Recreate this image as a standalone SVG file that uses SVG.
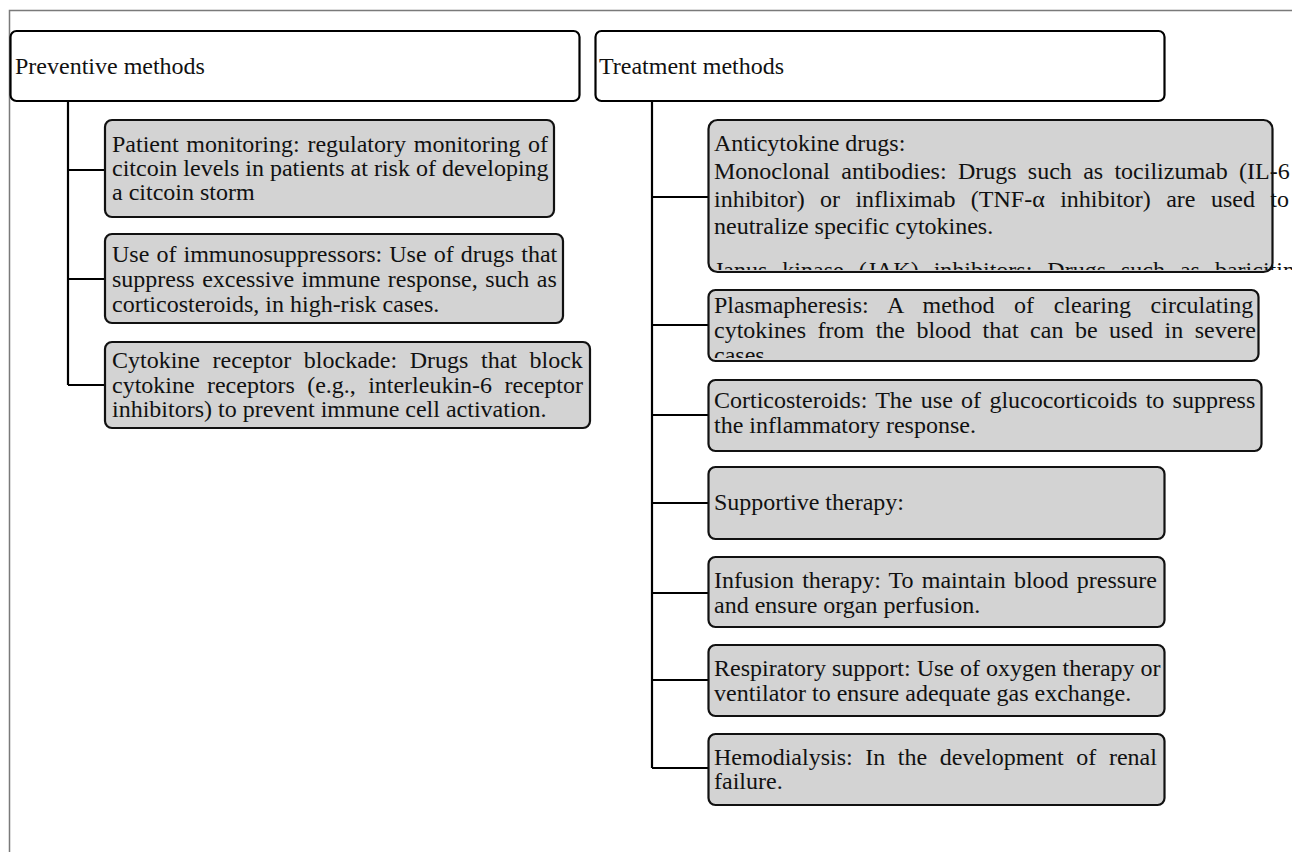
<svg xmlns="http://www.w3.org/2000/svg" width="1292" height="852" viewBox="0 0 1292 852">
<style>
text{font-family:"Liberation Serif","Times New Roman",serif;font-size:24px;fill:#111;}
.hdr{fill:#fff;stroke:#000;stroke-width:2.2;}
.box{fill:#d3d3d3;stroke:#111;stroke-width:2.2;}
.con{fill:none;stroke:#000;stroke-width:2.2;}
.frame{fill:none;stroke:#7a7a7a;stroke-width:1.5;}
</style>
<defs>
<clipPath id="clipAnti"><rect x="700" y="118" width="592" height="152"/></clipPath>
<clipPath id="clipPlasma"><rect x="700" y="290" width="592" height="68"/></clipPath>
</defs>
<rect width="1292" height="852" fill="#fff"/>
<path class="frame" d="M9.5,852 V10.5 H1292"/>
<g id="connectors">
<path class="con" d="M68,101 V385 M68,170 H105 M68,279 H105 M68,385 H105"/>
<path class="con" d="M652,101 V768 M652,197 H708 M652,325 H708 M652,415 H708 M652,503 H708 M652,593 H708 M652,680 H708 M652,768 H708"/>
</g>
<g id="preventive">
<rect class="hdr" x="10.5" y="31" width="569" height="70" rx="6"/>
<text x="15" y="74">Preventive methods</text>
</g>
<g id="treatment">
<rect class="hdr" x="595.5" y="31" width="569" height="70" rx="6"/>
<text x="599" y="74">Treatment methods</text>
</g>
<g id="patient">
<rect class="box" x="105" y="120" width="449" height="97" rx="7"/>
<text x="112" y="152" word-spacing="1.7">Patient monitoring: regulatory monitoring of</text>
<text x="112" y="176">citcoin levels in patients at risk of developing</text>
<text x="112" y="200">a citcoin storm</text>
</g>
<g id="immuno">
<rect class="box" x="105" y="234" width="458" height="89" rx="7"/>
<text x="112" y="262" word-spacing="1.1">Use of immunosuppressors: Use of drugs that</text>
<text x="112" y="287" word-spacing="1.5">suppress excessive immune response, such as</text>
<text x="112" y="312">corticosteroids, in high-risk cases.</text>
</g>
<g id="cytokine">
<rect class="box" x="105" y="342" width="485" height="86" rx="7"/>
<text x="112" y="368" word-spacing="6.6">Cytokine receptor blockade: Drugs that block</text>
<text x="112" y="393" word-spacing="6.3">cytokine receptors (e.g., interleukin-6 receptor</text>
<text x="112" y="417">inhibitors) to prevent immune cell activation.</text>
</g>
<g id="anticytokine">
<rect class="box" x="708.5" y="120" width="564" height="152" rx="9"/>
<text x="714" y="151">Anticytokine drugs:</text>
<text x="714" y="179" word-spacing="5.3">Monoclonal antibodies: Drugs such as tocilizumab (IL-6</text>
<text x="714" y="207" word-spacing="9.4">inhibitor) or infliximab (TNF-α inhibitor) are used to</text>
<text x="714" y="234">neutralize specific cytokines.</text>
<text x="714" y="278" word-spacing="9" clip-path="url(#clipAnti)">Janus kinase (JAK) inhibitors: Drugs such as baricitinib (Olumiant)</text>
</g>
<g id="plasmapheresis">
<rect class="box" x="708.5" y="290" width="550" height="71" rx="7"/>
<text x="714" y="313" word-spacing="13.6">Plasmapheresis: A method of clearing circulating</text>
<text x="714" y="338" word-spacing="5.5">cytokines from the blood that can be used in severe</text>
<text x="714" y="363" clip-path="url(#clipPlasma)">cases.</text>
</g>
<g id="corticosteroids">
<rect class="box" x="708.5" y="380" width="553" height="71" rx="7"/>
<text x="714" y="408" word-spacing="2.3">Corticosteroids: The use of glucocorticoids to suppress</text>
<text x="714" y="433">the inflammatory response.</text>
</g>
<g id="supportive">
<rect class="box" x="708.5" y="467" width="456" height="72" rx="7"/>
<text x="714" y="510">Supportive therapy:</text>
</g>
<g id="infusion">
<rect class="box" x="708.5" y="557" width="456" height="70" rx="7"/>
<text x="714" y="588" word-spacing="2.2">Infusion therapy: To maintain blood pressure</text>
<text x="714" y="613">and ensure organ perfusion.</text>
</g>
<g id="respiratory">
<rect class="box" x="708.5" y="645" width="456" height="71" rx="7"/>
<text x="714" y="676">Respiratory support: Use of oxygen therapy or</text>
<text x="714" y="701">ventilator to ensure adequate gas exchange.</text>
</g>
<g id="hemodialysis">
<rect class="box" x="708.5" y="734" width="456" height="71" rx="7"/>
<text x="714" y="765" word-spacing="6.6">Hemodialysis: In the development of renal</text>
<text x="714" y="789">failure.</text>
</g>
</svg>
